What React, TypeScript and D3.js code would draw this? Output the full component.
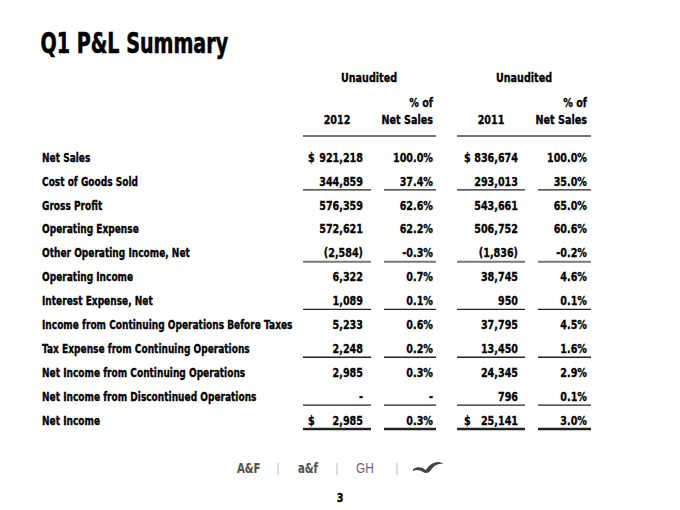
import React from "react";
import * as d3 from "d3";

const labels = [
  "Net Sales",
  "Cost of Goods Sold",
  "Gross Profit",
  "Operating Expense",
  "Other Operating Income, Net",
  "Operating Income",
  "Interest Expense, Net",
  "Income from Continuing Operations Before Taxes",
  "Tax Expense from Continuing Operations",
  "Net Income from Continuing Operations",
  "Net Income from Discontinued Operations",
  "Net Income",
];
const values2012: (number | null)[] = [921218, 344859, 576359, 572621, -2584, 6322, 1089, 5233, 2248, 2985, null, 2985];
const pct2012: (number | null)[] = [100.0, 37.4, 62.6, 62.2, -0.3, 0.7, 0.1, 0.6, 0.2, 0.3, null, 0.3];
const values2011: (number | null)[] = [836674, 293013, 543661, 506752, -1836, 38745, 950, 37795, 13450, 24345, 796, 25141];
const pct2011: (number | null)[] = [100.0, 35.0, 65.0, 60.6, -0.2, 4.6, 0.1, 4.5, 1.6, 2.9, 0.1, 3.0];
const dollarRows = [0, 11];
const underlineRows = [1, 4, 6, 8, 10, 11];
const grayRows = [4];
const years = ["2012", "2011"];

const FONT = "'DejaVu Sans', 'Liberation Sans', sans-serif";

const fmtNum = d3.format(",");
const fmtVal = (v: number | null) => (v === null ? "-" : v < 0 ? `(${fmtNum(-v)})` : fmtNum(v));
const fmtPct = (v: number | null) =>
  v === null ? "-" : `${v < 0 ? "-" : ""}${d3.format(".1f")(Math.abs(v))}%`;

type TP = {
  x: number;
  y: number;
  size?: number;
  sx?: number;
  anchor?: "start" | "middle" | "end";
  fill?: string;
  weight?: string;
  family?: string;
  stroke?: number;
  children: React.ReactNode;
};
function T({ x, y, size = 13, sx = 0.74, anchor = "start", fill = "#000", weight = "bold", family = FONT, stroke = 0.35, children }: TP) {
  return (
    <text
      transform={`translate(${x},${y}) scale(${sx},1)`}
      fontSize={size}
      textAnchor={anchor}
      fill={fill}
      stroke={stroke > 0 ? fill : "none"}
      strokeWidth={stroke}
      fontWeight={weight}
      fontFamily={family}
    >
      {children}
    </text>
  );
}

export default function App() {
  const y = d3.scalePoint<number>().domain(d3.range(labels.length)).range([157, 420]);
  const cols = [
    { right: 363, x0: 303, x1: 371, dollar: 308 },
    { right: 433, x0: 384, x1: 436 },
    { right: 518, x0: 457, x1: 525, dollar: 464 },
    { right: 587, x0: 538, x1: 591 },
  ];
  const series = [values2012, pct2012, values2011, pct2011];
  const fmts = [fmtVal, fmtPct, fmtVal, fmtPct];
  const yearX = [337, 491];
  const unaudX = [369, 524];
  const base = (r: number) => (y(r) as number) + 4.7;
  return (
    <svg width={680} height={510} style={{ position: "absolute", left: 0, top: 0, background: "#fff" }}>
      <rect width={680} height={510} fill="#fff" />
      <T x={40.5} y={53.3} size={27.5} sx={0.695} stroke={0.6}>Q1 P&amp;L Summary</T>
      {/* headers */}
      {[0, 2].map((c, i) => (
        <g key={c}>
          <T x={unaudX[i]} y={81.7} anchor="middle">Unaudited</T>
          <T x={cols[c + 1].right} y={106.7} anchor="end">% of</T>
          <T x={cols[c + 1].right} y={123.7} anchor="end">Net Sales</T>
          <T x={yearX[i]} y={123.7} anchor="middle">{years[i]}</T>
          <line x1={cols[c].x0} x2={cols[c + 1].x1} y1={136} y2={136} stroke="#444" strokeWidth={1.3} />
        </g>
      ))}
      {/* rows */}
      {labels.map((l, r) => (
        <g key={l}>
          <T x={42} y={base(r)} sx={0.695}>{l}</T>
          {series.map((s, c) => (
            <T key={c} x={cols[c].right} y={base(r)} anchor="end">
              {fmts[c](s[r])}
            </T>
          ))}
          {dollarRows.includes(r) &&
            [0, 2].map((c) => (
              <T key={c} x={cols[c].dollar!} y={base(r)}>$</T>
            ))}
          {underlineRows.includes(r) &&
            cols.map((c, i) => (
              <line
                key={i}
                x1={c.x0}
                x2={c.x1}
                y1={(y(r) as number) + 9}
                y2={(y(r) as number) + 9}
                stroke={grayRows.includes(r) ? "#777" : "#222"}
                strokeWidth={r === labels.length - 1 ? 2.5 : grayRows.includes(r) ? 2 : 1.3}
              />
            ))}
        </g>
      ))}
      {/* footer logos */}
      <T x={237} y={473} size={14} sx={0.72} fill="#555" stroke={0.2}>A&amp;F</T>
      <line x1={278} x2={278} y1={463} y2={475} stroke="#bbb" strokeWidth={1} />
      <T x={298} y={473} size={14} sx={0.72} fill="#555" stroke={0.2}>a&amp;f</T>
      <line x1={337} x2={337} y1={463} y2={475} stroke="#bbb" strokeWidth={1} />
      <T x={356} y={473} size={14} sx={0.85} fill="#666" weight="normal" stroke={0} family="'Liberation Sans', sans-serif">GH</T>
      <line x1={397} x2={397} y1={463} y2={475} stroke="#bbb" strokeWidth={1} />
      <path
        d="M413,469 C418,466 422,467 426,470 C428,466 433,462 438,462 C441,462 443,463 443,464 C439,463 434,465 431,470 C429,473 426,474 423,472 C420,470 417,469 413,471 Z"
        fill="#444"
      />
      <T x={340} y={502} anchor="middle">3</T>
    </svg>
  );
}
